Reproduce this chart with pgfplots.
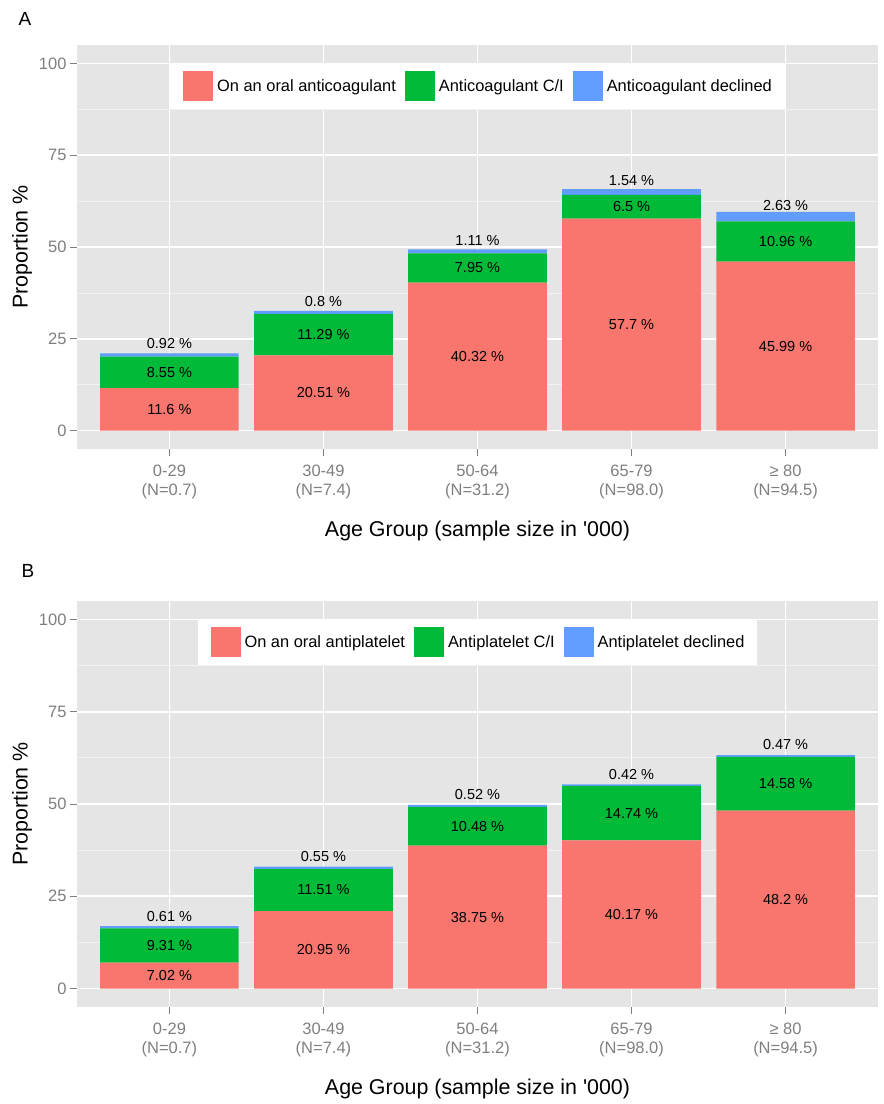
\documentclass[border=0pt]{standalone}
\usepackage{fontspec}
\setmainfont{Liberation Sans}[Ligatures=TeXOff]
\usepackage{pgfplots}
\pgfplotsset{compat=1.18}
\definecolor{ggred}{HTML}{F8766D}
\definecolor{gggreen}{HTML}{00BA38}
\definecolor{ggblue}{HTML}{619CFF}
\definecolor{ggbg}{HTML}{E5E5E5}
\definecolor{ggminor}{HTML}{F2F2F2}
\definecolor{ggtick}{HTML}{7F7F7F}
\newcommand\tickfont{\fontsize{16.5}{19}\selectfont}
\newcommand\legfont{\fontsize{16.4}{19}\selectfont}
\newcommand\barfont{\fontsize{14.5}{17}\selectfont}
\newcommand\titlefont{\fontsize{21.4}{25}\selectfont}
\newcommand\panelfont{\fontsize{19}{22}\selectfont}
\pgfplotsset{
  ggkey/.style={legend image code/.code={\fill[##1,draw=none] (0pt,-15pt) rectangle (30pt,15pt);}},
  ggbase/.style={
    scale only axis, width=801pt,
    xmin=-0.6, xmax=4.6, ymin=-5, ymax=105,
  },
  ggpanel/.style={
    ggbase,
    ybar stacked, bar width=0.9,
    axis background/.style={fill=ggbg},
    axis line style={draw=none},
    xtick={0,1,2,3,4},
    xticklabels={{0-29\\(N=0.7)},{30-49\\(N=7.4)},{50-64\\(N=31.2)},{65-79\\(N=98.0)},{≥ 80\\(N=94.5)}},
    ytick={0,25,50,75,100},
    minor ytick={12.5,37.5,62.5,87.5},
    xmajorgrids=true, ymajorgrids=true, yminorgrids=true,
    major grid style={white, line width=1.6pt},
    minor grid style={ggminor, line width=0.8pt},
    tick align=outside, xtick pos=left, ytick pos=left,
    major tick length=7pt, minor tick length=0pt,
    every tick/.style={ggtick, line width=0.9pt},
    tick label style={text=ggtick, font=\tickfont},
    xticklabel style={align=center, yshift=-5pt},
    /pgf/number format/assume math mode=true,
    ylabel={Proportion \%},
    xlabel={Age Group (sample size in '000)},
    label style={font=\titlefont, text=black},
    xlabel style={at={(axis description cs:0.5,-0.203)}, anchor=center},
    ylabel style={at={(axis description cs:-0.0687,0.5)}, anchor=center},
    legend columns=3, legend cell align=left,
    legend style={at={(axis description cs:0.5,0.9545)}, anchor=north, draw=none, fill=white,
      inner xsep=13pt, inner ysep=7.5pt, font=\legfont, nodes={inner sep=0pt},
      /tikz/every odd column/.append style={column sep=4pt},
      /tikz/every even column/.append style={column sep=9pt}},
  },
  gglabels/.style={
    ggbase, hide axis,
    every node near coord/.style={anchor=center, font=\barfont, text=black, inner sep=0pt},
  },
}
\begin{document}
\begin{tikzpicture}
\path[use as bounding box] (0,0) rectangle (884pt,-1104pt);
\node[font=\panelfont, anchor=center] at (25pt,-19pt) {A};
\begin{axis}[ggpanel, height=404pt, at={(77pt,-449pt)}, anchor=south west]
\addplot[fill=ggred, draw=none, ggkey] coordinates {(0,11.6) (1,20.51) (2,40.32) (3,57.7) (4,45.99)};
\addlegendentry{On an oral anticoagulant}
\addplot[fill=gggreen, draw=none, ggkey] coordinates {(0,8.55) (1,11.29) (2,7.95) (3,6.5) (4,10.96)};
\addlegendentry{Anticoagulant C/I}
\addplot[fill=ggblue, draw=none, ggkey] coordinates {(0,0.92) (1,0.8) (2,1.11) (3,1.54) (4,2.63)};
\addlegendentry{Anticoagulant declined}
\end{axis}
\begin{axis}[gglabels, height=404pt, at={(77pt,-449pt)}, anchor=south west]
\addplot[draw=none, mark=none, nodes near coords, point meta=explicit symbolic] coordinates {
(0,5.8) [11.6 \%] (1,10.255) [20.51 \%] (2,20.16) [40.32 \%] (3,28.85) [57.7 \%] (4,22.995) [45.99 \%]
(0,15.875) [8.55 \%] (1,26.155) [11.29 \%] (2,44.295) [7.95 \%] (3,60.95) [6.5 \%] (4,51.47) [10.96 \%]
(0,23.61) [0.92 \%] (1,35.2) [0.8 \%] (2,51.825) [1.11 \%] (3,67.97) [1.54 \%] (4,61.265) [2.63 \%]
};
\end{axis}
\node[font=\panelfont, anchor=center] at (28pt,-571pt) {B};
\begin{axis}[ggpanel, height=406pt, at={(77pt,-1007pt)}, anchor=south west]
\addplot[fill=ggred, draw=none, ggkey] coordinates {(0,7.02) (1,20.95) (2,38.75) (3,40.17) (4,48.2)};
\addlegendentry{On an oral antiplatelet}
\addplot[fill=gggreen, draw=none, ggkey] coordinates {(0,9.31) (1,11.51) (2,10.48) (3,14.74) (4,14.58)};
\addlegendentry{Antiplatelet C/I}
\addplot[fill=ggblue, draw=none, ggkey] coordinates {(0,0.61) (1,0.55) (2,0.52) (3,0.42) (4,0.47)};
\addlegendentry{Antiplatelet declined}
\end{axis}
\begin{axis}[gglabels, height=406pt, at={(77pt,-1007pt)}, anchor=south west]
\addplot[draw=none, mark=none, nodes near coords, point meta=explicit symbolic] coordinates {
(0,3.51) [7.02 \%] (1,10.475) [20.95 \%] (2,19.375) [38.75 \%] (3,20.085) [40.17 \%] (4,24.1) [48.2 \%]
(0,11.675) [9.31 \%] (1,26.705) [11.51 \%] (2,43.99) [10.48 \%] (3,47.54) [14.74 \%] (4,55.49) [14.58 \%]
(0,19.635) [0.61 \%] (1,35.735) [0.55 \%] (2,52.49) [0.52 \%] (3,58.12) [0.42 \%] (4,66.015) [0.47 \%]
};
\end{axis}
\end{tikzpicture}
\end{document}
